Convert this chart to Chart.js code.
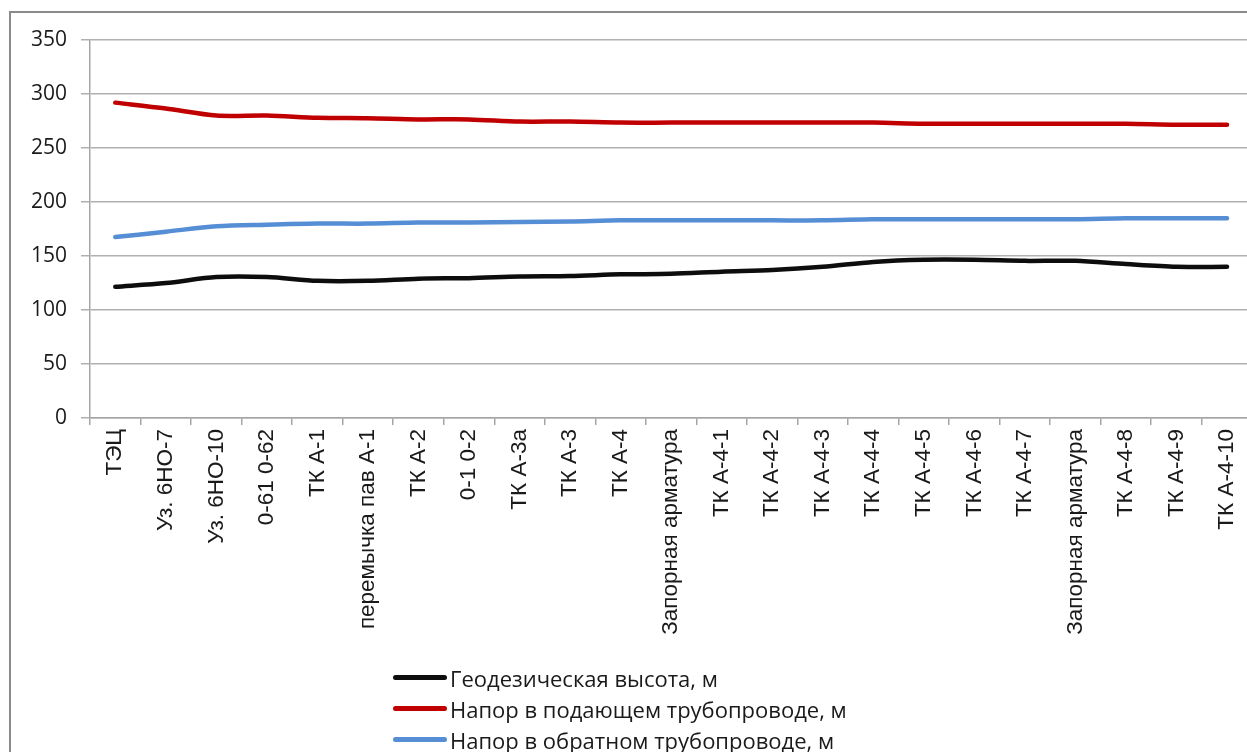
<!DOCTYPE html>
<html>
<head>
<meta charset="utf-8">
<script src="https://cdn.jsdelivr.net/npm/chart.js@4.4.1/dist/chart.umd.min.js"></script>
<style>
  html, body { margin: 0; padding: 0; background: #fff; width: 1247px; height: 752px; overflow: hidden; }
  #wrap { position: absolute; left: 0; top: 0; width: 1258px; height: 752px; }
  #frame { position: absolute; left: 9px; top: 11px; width: 1300px; height: 800px; border-left: 2px solid #8a8a8a; border-top: 2px solid #8a8a8a; }
  #legend { position: absolute; left: 393px; top: 662px; font-family: "Open Sans", "Noto Sans", sans-serif; font-size: 22px; color: #1a1a1a; }
  .row { height: 31px; display: flex; align-items: center; white-space: nowrap; }
  .sw { width: 54px; height: 5px; border-radius: 3px; margin-right: 3px; }
</style>
</head>
<body>
<div id="frame"></div>
<div id="wrap"><canvas id="c" width="1258" height="752"></canvas></div>
<div id="legend"></div>
<script>
const categories = [
  "ТЭЦ", "Уз. 6НО-7", "Уз. 6НО-10", "0-61 0-62", "ТК А-1", "перемычка пав А-1",
  "ТК А-2", "0-1 0-2", "ТК А-3а", "ТК А-3", "ТК А-4", "Запорная арматура",
  "ТК А-4-1", "ТК А-4-2", "ТК А-4-3", "ТК А-4-4", "ТК А-4-5", "ТК А-4-6",
  "ТК А-4-7", "Запорная арматура", "ТК А-4-8", "ТК А-4-9", "ТК А-4-10"
];
const geodeticHeight = [121.5, 125, 130.5, 130.5, 127, 127, 129, 129.5, 131, 131.5, 133, 133.5, 135.5, 137, 140, 144.5, 146.5, 146.5, 145.5, 145.5, 142.5, 140, 140];
const supplyHead = [292, 286.5, 280, 280, 278, 277.5, 276.5, 276.5, 274.5, 274.5, 273.5, 273.5, 273.5, 273.5, 273.5, 273.5, 272.5, 272.5, 272.5, 272.5, 272.5, 271.5, 271.5];
const returnHead = [167.5, 172.5, 177.5, 179, 180, 180, 181, 181, 181.5, 182, 183, 183, 183, 183, 183, 184, 184, 184, 184, 184, 185, 185, 185];
const seriesNames = ["Геодезическая высота, м", "Напор в подающем трубопроводе, м", "Напор в обратном трубопроводе, м"];
const seriesColors = ["#0d0d0d", "#c00000", "#558ed5"];
const yTicks = [0, 50, 100, 150, 200, 250, 300, 350];

const seriesData = [geodeticHeight, supplyHead, returnHead];
const datasets = seriesData.map((d, i) => ({
  label: seriesNames[i],
  data: d,
  borderColor: seriesColors[i],
  backgroundColor: seriesColors[i],
  borderWidth: 4.5,
  pointRadius: 0,
  tension: 0.3,
  borderCapStyle: "round",
  borderJoinStyle: "round",
  fill: false
}));
const ctx = document.getElementById("c").getContext("2d");
new Chart(ctx, {
  type: "line",
  data: { labels: categories, datasets: datasets },
  options: {
    responsive: false,
    animation: false,
    devicePixelRatio: 1,
    layout: { padding: { top: 40, left: 0, right: 0, bottom: 0 } },
    plugins: { legend: { display: false }, tooltip: { enabled: false } },
    scales: {
      x: {
        type: "category",
        offset: true,
        grid: { offset: true, drawOnChartArea: false, drawTicks: true, tickLength: 7, color: "#a6a6a6", lineWidth: 1.5 },
        border: { display: true, color: "#a6a6a6", width: 1.5 },
        ticks: {
          autoSkip: false, maxRotation: 90, minRotation: 90, padding: 4,
          color: "#1a1a1a",
          font: { family: "'Liberation Sans', Arial, sans-serif", size: 22.5 }
        },
        afterFit: (s) => { s.height = 752 - 418; }
      },
      y: {
        min: 0, max: 350,
        afterBuildTicks: (s) => { s.ticks = yTicks.map(v => ({ value: v })); },
        grid: { color: "#b0b0b0", lineWidth: 1.5, tickLength: 9, drawTicks: true },
        border: { display: true, color: "#a6a6a6", width: 1.5 },
        ticks: {
          padding: 14, color: "#1a1a1a",
          font: { family: "'Open Sans', 'Noto Sans', sans-serif", size: 21 }
        },
        afterFit: (s) => { s.width = 90; }
      }
    }
  }
});

const lg = document.getElementById("legend");
seriesNames.forEach((n, i) => {
  const r = document.createElement("div");
  r.className = "row";
  const sw = document.createElement("div");
  sw.className = "sw";
  sw.style.background = seriesColors[i];
  const t = document.createElement("span");
  t.textContent = n;
  r.appendChild(sw); r.appendChild(t);
  lg.appendChild(r);
});
</script>
</body>
</html>
